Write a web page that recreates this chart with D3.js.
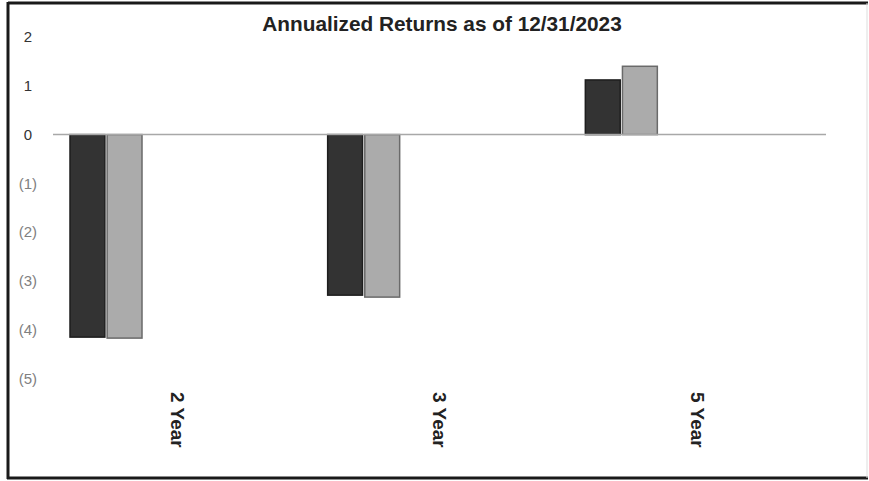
<!DOCTYPE html>
<html><head><meta charset="utf-8">
<script src="https://cdn.jsdelivr.net/npm/d3@7"></script>
<style>body{margin:0;background:#fff}svg{display:block}</style>
</head><body>
<script>
const categories = ["2 Year", "3 Year", "5 Year"];
const seriesNames = ["Fund", "Benchmark"];
const fundValues = [-4.15, -3.29, 1.12];
const benchmarkValues = [-4.17, -3.33, 1.40];
const yTicks = [2, 1, 0, -1, -2, -3, -4, -5];
const title = "Annualized Returns as of 12/31/2023";

const W = 869, H = 481;
const svg = d3.select("body").append("svg").attr("width", W).attr("height", H);

// frame
svg.append("line").attr("x1",8).attr("x2",868).attr("y1",3).attr("y2",3).attr("stroke","#1a1a1a").attr("stroke-width",3);
svg.append("line").attr("x1",8).attr("x2",8).attr("y1",2).attr("y2",479).attr("stroke","#1a1a1a").attr("stroke-width",3);
svg.append("line").attr("x1",7).attr("x2",868).attr("y1",478).attr("y2",478).attr("stroke","#1a1a1a").attr("stroke-width",3);
svg.append("line").attr("x1",867).attr("x2",867).attr("y1",3).attr("y2",478).attr("stroke","#ddd").attr("stroke-width",1);

const y = d3.scaleLinear().domain([-5, 2]).range([378.6, 37]);
const x = d3.scaleBand().domain(categories).range([53, 826]).padding(0);
const bw = x.bandwidth();
const xs = d3.scaleBand().domain(seriesNames).range([17, 17 + 72]).paddingInner(0.06);

const fills = ["#333333", "#ababab"];
const strokes = ["#1e1e1e", "#6a6a6a"];
const seriesValues = [fundValues, benchmarkValues];

// y tick labels (accounting-style: positives leave room for ")")
const fmt = v => v < 0 ? "(" + Math.abs(v) + ")" : String(v);
svg.append("g").selectAll("text").data(yTicks).join("text")
  .attr("x", d => d < 0 ? 37 : 32).attr("y", d => y(d)).attr("dy", "0.35em")
  .attr("text-anchor", "end")
  .attr("font-family", "Liberation Sans, Arial, sans-serif")
  .attr("font-size", 15)
  .attr("fill", d => d >= 0 ? "#333" : "#808080")
  .text(fmt);

// bars
seriesNames.forEach((s, si) => {
  svg.append("g").selectAll("rect").data(categories).join("rect")
    .attr("x", c => x(c) + xs(s))
    .attr("width", xs.bandwidth())
    .attr("y", (c, i) => y(Math.max(0, seriesValues[si][i])))
    .attr("height", (c, i) => Math.abs(y(seriesValues[si][i]) - y(0)))
    .attr("fill", fills[si])
    .attr("stroke", strokes[si])
    .attr("stroke-width", 1.5);
});

// zero line
svg.append("line").attr("x1", 53).attr("x2", 826).attr("y1", y(0)).attr("y2", y(0))
  .attr("stroke", "#a8a8a8").attr("stroke-width", 1.5);

// category labels (rotated)
svg.append("g").selectAll("text").data(categories).join("text")
  .attr("transform", (c, i) => `translate(${x(c) + bw / 2 - (i === 0 ? 4 : 0)},392) rotate(90)`)
  .attr("dy", "0.35em")
  .attr("font-family", "Liberation Sans, Arial, sans-serif")
  .attr("font-size", 19).attr("font-weight", "bold").attr("fill", "#222")
  .text(c => c);

// title
svg.append("text").attr("x", 442).attr("y", 31).attr("text-anchor", "middle")
  .attr("font-family", "Liberation Sans, Arial, sans-serif")
  .attr("font-size", 20.8).attr("font-weight", "bold").attr("fill", "#222")
  .text(title);
</script>
</body></html>
